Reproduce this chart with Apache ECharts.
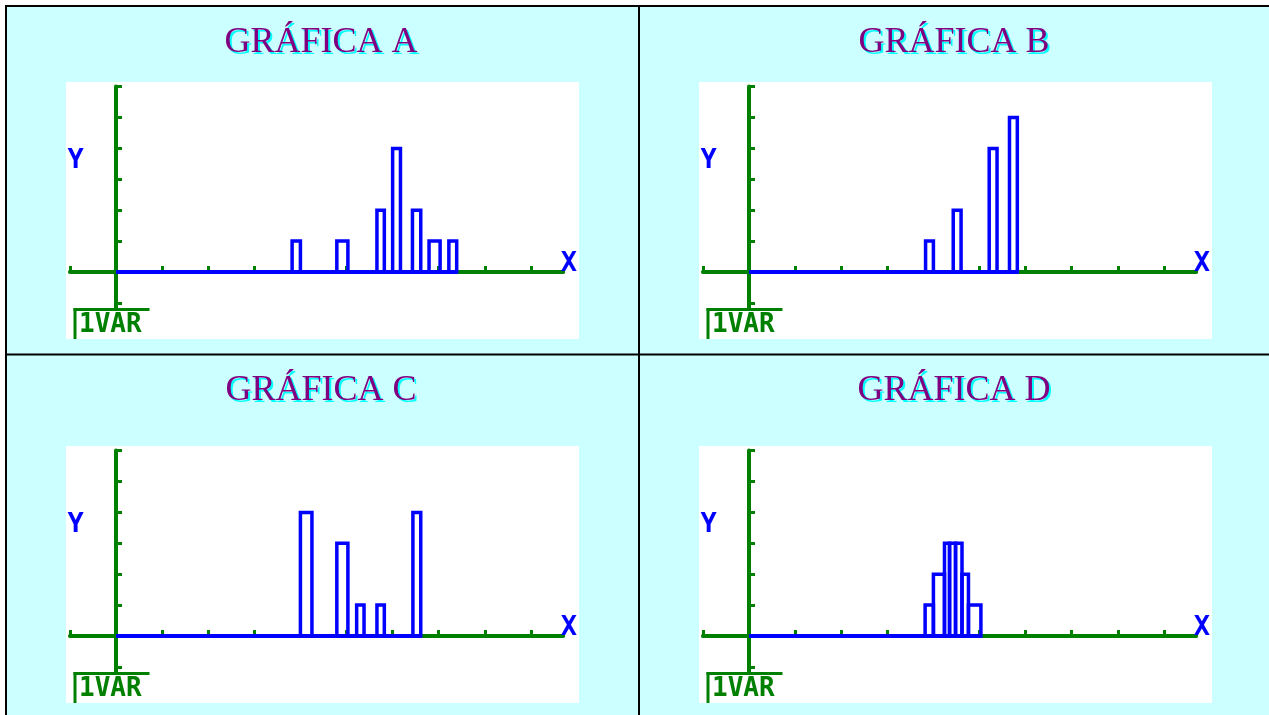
<!DOCTYPE html>
<html>
<head>
<meta charset="utf-8">
<script src="https://cdn.jsdelivr.net/npm/echarts@6/dist/echarts.min.js"></script>
<style>
html,body{margin:0;padding:0;background:#ffffff;overflow:hidden;}
#c{width:1269px;height:715px;}
</style>
</head>
<body>
<div id="c"></div>
<script>
// ---- data (x in axis-tick units, count = bar height in y-tick units) ----
const titles = ['GRÁFICA A', 'GRÁFICA B', 'GRÁFICA C', 'GRÁFICA D'];

const startA = [3.82, 4.79, 5.66, 6.00, 6.43, 6.79, 7.22];
const endA   = [4.00, 5.03, 5.82, 6.17, 6.61, 7.03, 7.39];
const countA = [1, 1, 2, 4, 2, 1, 1];

const startB = [3.83, 4.43, 5.21, 5.65];
const endB   = [4.00, 4.60, 5.38, 5.82];
const countB = [1, 2, 4, 5];

const startC = [4.00, 4.79, 5.22, 5.66, 6.44];
const endC   = [4.25, 5.03, 5.38, 5.82, 6.61];
const countC = [4, 3, 1, 1, 4];

const startD = [3.82, 4.00, 4.24, 4.35, 4.48, 4.62, 4.76];
const endD   = [4.00, 4.24, 4.35, 4.48, 4.62, 4.76, 5.03];
const countD = [1, 2, 3, 3, 3, 2, 1];

const xTicks = [-1, 0, 1, 2, 3, 4, 5, 6, 7, 8, 9];
const yTicks = [-1, 0, 1, 2, 3, 4, 5, 6];
const xName = 'X';
const yName = 'Y';
const modeName = '1VAR';

// ---- layout ----
const GREEN = '#008000', BLUE = '#0000FF', PURPLE = '#800080', CYAN = '#CCFFFF';
const offsets = [[0, 0], [633, 0], [0, 364], [633, 364]];
const titleY = [42.5, 42.5, 390.5, 390.5];
const titleX = [321, 954, 321, 954];

const panels = [
  [startA, endA, countA],
  [startB, endB, countB],
  [startC, endC, countC],
  [startD, endD, countD]
];

function renderBar(params, api) {
  const x0 = api.value(0), x1 = api.value(1), h = api.value(2);
  const p0 = api.coord([x0, h]);
  const p1 = api.coord([x1, 0]);
  return {
    type: 'rect',
    shape: { x: p0[0], y: p0[1], width: p1[0] - p0[0], height: p1[1] - p0[1] },
    style: { fill: 'none', stroke: BLUE, lineWidth: 3.5 }
  };
}

const grids = [], xAxes = [], yAxes = [], series = [], graphics = [];

// backgrounds and table lines
graphics.push({ type: 'rect', z: -20, shape: { x: 6, y: 6, width: 1263, height: 709 }, style: { fill: CYAN } });
graphics.push({ type: 'rect', z: -5, shape: { x: 5, y: 5, width: 1264, height: 2 }, style: { fill: '#000' } });
graphics.push({ type: 'rect', z: -5, shape: { x: 5, y: 5, width: 2, height: 710 }, style: { fill: '#000' } });
graphics.push({ type: 'rect', z: -5, shape: { x: 638, y: 5, width: 2, height: 710 }, style: { fill: '#000' } });
graphics.push({ type: 'rect', z: -5, shape: { x: 5, y: 353.5, width: 1264, height: 2 }, style: { fill: '#000' } });

panels.forEach(function (p, i) {
  const dx = offsets[i][0], dy = offsets[i][1];
  const rows = p[0].map(function (s, k) { return [s, p[1][k], p[2][k]]; });
  const lastEnd = Math.max.apply(null, p[1]);

  grids.push({ left: 69.9 + dx, top: 86.6 + dy, width: 493.3, height: 221.4, show: false, containLabel: false });
  xAxes.push({
    gridIndex: i, type: 'value', min: -1, max: 9.7,
    axisLine: { show: true, onZero: true, lineStyle: { color: GREEN, width: 4 } },
    axisTick: { show: true, inside: true, length: 6, customValues: xTicks, lineStyle: { color: GREEN, width: 3 } },
    axisLabel: { show: false }, splitLine: { show: false }
  });
  yAxes.push({
    gridIndex: i, type: 'value', min: -1.165, max: 6,
    axisLine: { show: true, onZero: true, lineStyle: { color: GREEN, width: 4 } },
    axisTick: { show: true, inside: true, length: 6, customValues: yTicks, lineStyle: { color: GREEN, width: 3 } },
    axisLabel: { show: false }, splitLine: { show: false }
  });
  series.push({
    type: 'line', xAxisIndex: i, yAxisIndex: i, data: [[0, 0], [lastEnd, 0]],
    symbol: 'none', lineStyle: { color: BLUE, width: 4 }, z: 1, silent: true
  });
  series.push({
    type: 'custom', xAxisIndex: i, yAxisIndex: i, data: rows, renderItem: renderBar,
    encode: { x: [0, 1], y: 2 }, z: 3, silent: true, clip: false
  });

  // white screen
  graphics.push({ type: 'rect', z: -10, shape: { x: 66 + dx, y: 82 + dy, width: 513, height: 257 }, style: { fill: '#FFFFFF' } });
  // title
  graphics.push({
    type: 'text', z: 10, x: titleX[i], y: titleY[i],
    style: {
      text: titles[i], font: '36px "Liberation Serif", "Times New Roman", serif', fill: PURPLE,
      textAlign: 'center', textVerticalAlign: 'middle', align: 'center', verticalAlign: 'middle',
      textShadowColor: '#00FFFF', textShadowOffsetX: 2, textShadowOffsetY: 2, textShadowBlur: 0.01
    }
  });
  // axis letters
  graphics.push({
    type: 'text', z: 10, x: 75.7 + dx, y: 160.5 + dy,
    style: { text: yName, font: 'bold 27px "DejaVu Sans Mono", monospace', fill: BLUE,
      textAlign: 'center', textVerticalAlign: 'middle', align: 'center', verticalAlign: 'middle' }
  });
  graphics.push({
    type: 'text', z: 10, x: 569 + dx, y: 264 + dy,
    style: { text: xName, font: 'bold 27px "DejaVu Sans Mono", monospace', fill: BLUE,
      textAlign: 'center', textVerticalAlign: 'middle', align: 'center', verticalAlign: 'middle' }
  });
  // 1VAR box
  graphics.push({ type: 'rect', z: 10, shape: { x: 73.5 + dx, y: 308 + dy, width: 76, height: 3 }, style: { fill: GREEN } });
  graphics.push({ type: 'rect', z: 10, shape: { x: 73.5 + dx, y: 308 + dy, width: 3, height: 31 }, style: { fill: GREEN } });
  graphics.push({
    type: 'text', z: 10, x: 79 + dx, y: 325.5 + dy,
    style: { text: modeName, font: 'bold 26px "DejaVu Sans Mono", monospace', fill: GREEN,
      textAlign: 'left', textVerticalAlign: 'middle', align: 'left', verticalAlign: 'middle' }
  });
});

const chart = echarts.init(document.getElementById('c'), null, { renderer: 'canvas', width: 1269, height: 715 });
chart.setOption({
  animation: false,
  backgroundColor: '#ffffff',
  grid: grids,
  xAxis: xAxes,
  yAxis: yAxes,
  series: series,
  graphic: { elements: graphics }
});
</script>
</body>
</html>
